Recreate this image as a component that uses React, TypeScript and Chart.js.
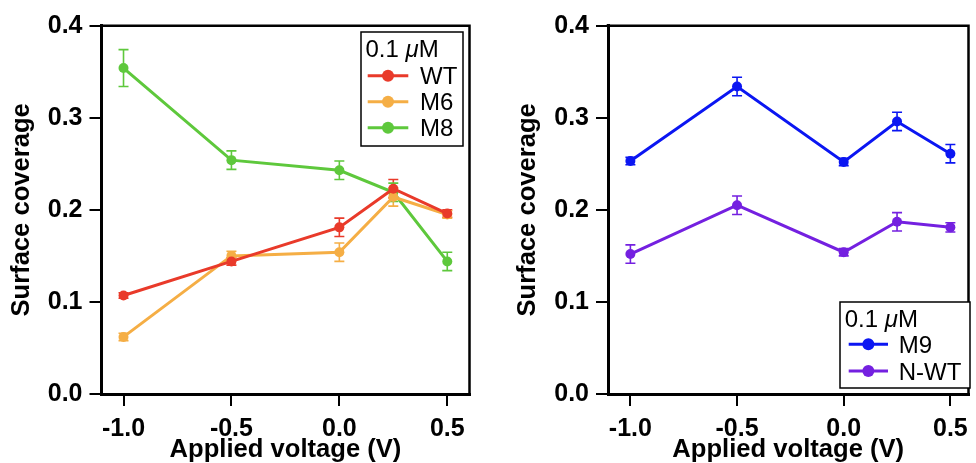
import React, { useEffect, useRef } from "react";
import { Chart, registerables } from "chart.js";

Chart.register(...registerables);

// ---------------- data ----------------
const voltages = [-1.0, -0.5, 0.0, 0.25, 0.5];
const xTickValues = [-1.0, -0.5, 0.0, 0.5];

const wtValues = [0.107, 0.144, 0.181, 0.223, 0.196];
const wtErrors = [0.003, 0.004, 0.01, 0.01, 0.004];
const m6Values = [0.062, 0.15, 0.154, 0.214, 0.195];
const m6Errors = [0.004, 0.005, 0.01, 0.01, 0.004];
const m8Values = [0.354, 0.254, 0.243, 0.219, 0.144];
const m8Errors = [0.02, 0.01, 0.01, 0.01, 0.01];

const m9Values = [0.253, 0.334, 0.252, 0.296, 0.261];
const m9Errors = [0.004, 0.01, 0.004, 0.01, 0.01];
const nwtValues = [0.152, 0.205, 0.154, 0.187, 0.181];
const nwtErrors = [0.01, 0.01, 0.004, 0.01, 0.005];

const legendTitleParts = ["0.1 ", "μ", "M"];
const xTitle = "Applied voltage (V)";
const yTitle = "Surface coverage";

const FONT = "'Liberation Sans', Arial, Helvetica, sans-serif";

// ---------------- plugins ----------------
const errorBarPlugin = {
  id: "errorBars",
  beforeDatasetsDraw(chart: any) {
    const { ctx } = chart;
    const xs = chart.scales.x;
    const ys = chart.scales.y;
    chart.data.datasets.forEach((ds: any) => {
      const errs: number[] = ds.errors || [];
      ctx.save();
      ctx.strokeStyle = ds.borderColor;
      ctx.lineWidth = 1.6;
      ds.data.forEach((p: any, i: number) => {
        const e = errs[i];
        if (!e) return;
        const x = xs.getPixelForValue(p.x);
        const y1 = ys.getPixelForValue(p.y + e);
        const y2 = ys.getPixelForValue(p.y - e);
        ctx.beginPath();
        ctx.moveTo(x, y1);
        ctx.lineTo(x, y2);
        ctx.moveTo(x - 5, y1);
        ctx.lineTo(x + 5, y1);
        ctx.moveTo(x - 5, y2);
        ctx.lineTo(x + 5, y2);
        ctx.stroke();
      });
      ctx.restore();
    });
  },
};

const framePlugin = {
  id: "frame",
  afterDraw(chart: any) {
    const { ctx, chartArea } = chart;
    ctx.save();
    ctx.strokeStyle = "#000";
    ctx.lineWidth = 2.5;
    ctx.beginPath();
    ctx.moveTo(chartArea.left - 1.5, chartArea.top);
    ctx.lineTo(chartArea.right, chartArea.top);
    ctx.lineTo(chartArea.right, chartArea.bottom + 1.5);
    ctx.stroke();
    ctx.restore();
  },
};

const boxLegendPlugin = {
  id: "boxLegend",
  afterDraw(chart: any, _args: any, opts: any) {
    if (!opts || !opts.box) return;
    const { ctx } = chart;
    const b = opts.box;
    ctx.save();
    ctx.fillStyle = "#fff";
    ctx.fillRect(b.x, b.y, b.w, b.h);
    ctx.strokeStyle = "#000";
    ctx.lineWidth = 1.5;
    ctx.strokeRect(b.x, b.y, b.w, b.h);
    ctx.fillStyle = "#000";
    ctx.textBaseline = "alphabetic";
    ctx.textAlign = "left";
    let tx = opts.titleX;
    legendTitleParts.forEach((part: string, i: number) => {
      ctx.font = (i === 1 ? "italic " : "") + `${opts.fontSize}px ${FONT}`;
      ctx.fillText(part, tx, opts.titleBaseline);
      tx += ctx.measureText(part).width;
    });
    ctx.font = `${opts.fontSize}px ${FONT}`;
    chart.data.datasets.forEach((ds: any, i: number) => {
      const cy = opts.rowY[i];
      ctx.strokeStyle = ds.borderColor;
      ctx.lineWidth = 3;
      ctx.beginPath();
      ctx.moveTo(opts.lineX1, cy);
      ctx.lineTo(opts.lineX2, cy);
      ctx.stroke();
      ctx.fillStyle = ds.borderColor;
      ctx.beginPath();
      ctx.arc((opts.lineX1 + opts.lineX2) / 2, cy, 6, 0, Math.PI * 2);
      ctx.fill();
      ctx.fillStyle = "#000";
      ctx.fillText(ds.label, opts.textX, cy + 8.5);
    });
    ctx.restore();
  },
};

function makeDataset(label: string, values: number[], errors: number[], color: string) {
  return {
    label,
    data: voltages.map((v, i) => ({ x: v, y: values[i] })),
    errors,
    borderColor: color,
    backgroundColor: color,
    pointBackgroundColor: color,
    pointBorderColor: color,
    pointBorderWidth: 0,
    pointRadius: 5,
    borderWidth: 3,
    tension: 0,
  };
}

function makeConfig(p: any) {
  return {
    type: "line",
    data: { datasets: p.datasets },
    plugins: [errorBarPlugin, framePlugin, boxLegendPlugin],
    options: {
      animation: false,
      responsive: false,
      maintainAspectRatio: false,
      layout: { padding: p.padding },
      plugins: {
        legend: { display: false },
        tooltip: { enabled: false },
        boxLegend: p.legend,
      },
      scales: {
        x: {
          type: "linear",
          min: p.xMin,
          max: p.xMax,
          afterBuildTicks: (scale: any) => {
            scale.ticks = xTickValues.map((v) => ({ value: v }));
          },
          afterFit: (scale: any) => {
            scale.height = 69;
          },
          ticks: {
            autoSkip: false,
            maxRotation: 0,
            padding: 8,
            color: "#000",
            font: { family: FONT, size: 25, weight: "bold" },
            callback: (v: any) => Number(v).toFixed(1),
          },
          grid: {
            display: true,
            drawOnChartArea: false,
            drawTicks: true,
            tickLength: 12,
            color: "#000",
            lineWidth: 2,
          },
          border: { display: true, color: "#000", width: 3 },
          title: {
            display: true,
            text: xTitle,
            color: "#000",
            padding: { top: 0, bottom: -2 },
            font: { family: FONT, size: 25.6, weight: "bold" },
          },
        },
        y: {
          type: "linear",
          min: 0,
          max: 0.4,
          afterFit: (scale: any) => {
            scale.width = p.yWidth;
          },
          ticks: {
            stepSize: 0.1,
            padding: 7,
            color: "#000",
            font: { family: FONT, size: 25, weight: "bold" },
            callback: (v: any) => Number(v).toFixed(1),
          },
          grid: {
            display: true,
            drawOnChartArea: false,
            drawTicks: true,
            tickLength: 12,
            color: "#000",
            lineWidth: 2,
          },
          border: { display: true, color: "#000", width: 3 },
          title: {
            display: true,
            text: yTitle,
            color: "#000",
            padding: { top: 7, bottom: 0 },
            font: { family: FONT, size: 25.6, weight: "bold" },
          },
        },
      },
    },
  };
}

function Panel({ config, width, height }: any) {
  const ref = useRef<HTMLCanvasElement | null>(null);
  useEffect(() => {
    if (!ref.current) return;
    const chart = new Chart(ref.current, config);
    return () => chart.destroy();
  }, []);
  return <canvas ref={ref} width={width} height={height} style={{ display: "block", width, height }} />;
}

export default function App() {
  const leftConfig = makeConfig({
    datasets: [
      makeDataset("WT", wtValues, wtErrors, "#e93a2a"),
      makeDataset("M6", m6Values, m6Errors, "#f5ae45"),
      makeDataset("M8", m8Values, m8Errors, "#5ec83c"),
    ],
    padding: { left: 0, right: 18.5, top: 25.7, bottom: 0 },
    yWidth: 101.5,
    xMin: -1.102,
    xMax: 0.603,
    legend: {
      box: { x: 361, y: 32, w: 102, h: 114 },
      fontSize: 24,
      titleX: 365.5,
      titleBaseline: 57,
      rowY: [75.7, 101.7, 127.7],
      lineX1: 367.7,
      lineX2: 408.3,
      textX: 420,
    },
  });
  const rightConfig = makeConfig({
    datasets: [
      makeDataset("M9", m9Values, m9Errors, "#0b16f2"),
      makeDataset("N-WT", nwtValues, nwtErrors, "#7420e0"),
    ],
    padding: { left: 18, right: 3, top: 25.7, bottom: 0 },
    yWidth: 102,
    xMin: -1.105,
    xMax: 0.585,
    legend: {
      box: { x: 352, y: 302, w: 130, h: 86 },
      fontSize: 24,
      titleX: 356.7,
      titleBaseline: 327,
      rowY: [344.3, 371],
      lineX1: 360.7,
      lineX2: 400,
      textX: 410.7,
    },
  });
  return (
    <div style={{ position: "absolute", left: 0, top: 0, width: 976, height: 463, display: "flex", background: "#fff" }}>
      <Panel config={leftConfig} width={488} height={463} />
      <Panel config={rightConfig} width={488} height={463} />
    </div>
  );
}
